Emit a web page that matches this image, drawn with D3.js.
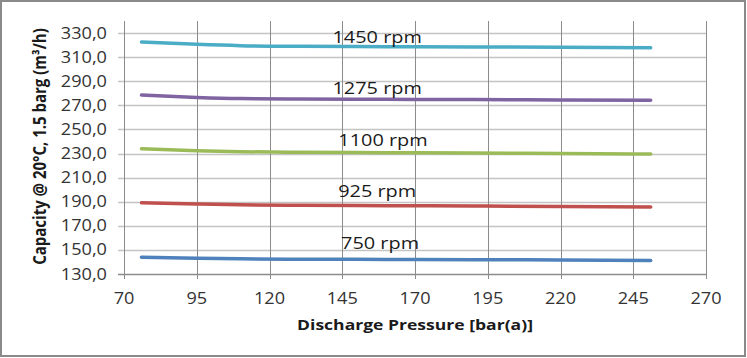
<!DOCTYPE html>
<html>
<head>
<meta charset="utf-8">
<script src="https://cdn.jsdelivr.net/npm/d3@7"></script>
<style>
  html, body { margin: 0; padding: 0; background: #fff; }
  #chart { width: 747px; height: 358px; }
</style>
</head>
<body>
<div id="chart"></div>
<script>
'use strict';

// discharge pressure points [bar(a)]
var pressures = [76, 95, 110, 130, 160, 190, 220, 251];

// capacity per speed [m3/h]
var speeds = ['750 rpm', '925 rpm', '1100 rpm', '1275 rpm', '1450 rpm'];
var cap750  = [143.9, 143.1, 142.6, 142.3, 142.1, 141.9, 141.6, 141.3];
var cap925  = [189.2, 188.1, 187.4, 187.0, 186.7, 186.4, 186.1, 185.7];
var cap1100 = [234.0, 232.4, 231.5, 231.0, 230.7, 230.4, 230.0, 229.6];
var cap1275 = [278.6, 276.6, 275.6, 275.2, 275.0, 274.8, 274.5, 274.2];
var cap1450 = [322.6, 320.6, 319.5, 319.0, 318.7, 318.4, 318.2, 317.8];

// where the speed labels sit, in chart units
var labelPressure = [158, 157, 159, 157, 157];
var labelCapacity = [150.8, 193.7, 236.5, 279.4, 321.7];

var xTicks = [70, 95, 120, 145, 170, 195, 220, 245, 270];
var yTicks = [130, 150, 170, 190, 210, 230, 250, 270, 290, 310, 330];

var colors = ['#4f81bd', '#c0504d', '#9bbb59', '#8064a2', '#4bacc6'];

var series = [cap750, cap925, cap1100, cap1275, cap1450].map(function(vals, i) {
  return { name: speeds[i], color: colors[i], points: vals.map(function(v, j) { return [pressures[j], v]; }) };
});

/********** Size Management **********/
var W = 747, H = 358;
var plotL = 124, plotR = 706, plotT = 21, plotB = 274;
var sx = 1.17; // the source text is a bit stretched sideways

var x = d3.scaleLinear().domain([70, 270]).range([plotL, plotR]);
var y = d3.scaleLinear().domain([130, 340]).range([plotB, plotT]);

var comma = d3.formatLocale({ decimal: ',', thousands: '.', grouping: [3], currency: ['', ''] }).format('.1f');

var svg = d3.select('#chart')
  .append('svg')
  .attr('width', W)
  .attr('height', H)
  .style('font-family', '"Open Sans", sans-serif');

svg.append('rect')
  .attr('x', 0).attr('y', 0).attr('width', W).attr('height', H)
  .style('fill', '#fff');

// outer frame
svg.append('rect')
  .attr('x', 1).attr('y', 1).attr('width', 744).attr('height', 355)
  .style('fill', 'none')
  .style('stroke', '#8a8a8a')
  .style('stroke-width', 2);

/********** Grid **********/
svg.append('g')
  .selectAll('line')
  .data(yTicks)
  .join('line')
  .attr('x1', plotL - 6).attr('x2', plotR)
  .attr('y1', function(d) { return Math.round(y(d)) + 0.5; })
  .attr('y2', function(d) { return Math.round(y(d)) + 0.5; })
  .style('stroke', function(d) { return d === 130 ? '#8c8c8c' : '#c4c4c4'; })
  .style('stroke-width', 1.5);

svg.append('g')
  .selectAll('line')
  .data(xTicks)
  .join('line')
  .attr('x1', function(d) { return Math.round(x(d)) + 0.5; })
  .attr('x2', function(d) { return Math.round(x(d)) + 0.5; })
  .attr('y1', plotT).attr('y2', plotB + 5)
  .style('stroke', '#8c8c8c')
  .style('stroke-width', 1);

/********** Tick labels **********/
svg.append('g')
  .selectAll('text')
  .data(yTicks)
  .join('text')
  .attr('transform', function(d) { return 'translate(107,' + (y(d) + 5.5) + ') scale(' + sx + ',1)'; })
  .attr('text-anchor', 'end')
  .attr('font-size', 15.5)
  .style('fill', '#333')
  .text(function(d) { return comma(d); });

svg.append('g')
  .selectAll('text')
  .data(xTicks)
  .join('text')
  .attr('transform', function(d) { return 'translate(' + x(d) + ',304) scale(' + sx + ',1)'; })
  .attr('text-anchor', 'middle')
  .attr('font-size', 15.5)
  .style('fill', '#333')
  .text(function(d) { return d; });

/********** Axis titles **********/
svg.append('text')
  .attr('transform', 'translate(' + ((plotL + plotR) / 2) + ',330) scale(' + sx + ',1)')
  .attr('text-anchor', 'middle')
  .attr('font-size', 15)
  .attr('font-weight', 'bold')
  .style('fill', '#1a1a1a')
  .text('Discharge Pressure  [bar(a)]');

svg.append('text')
  .attr('transform', 'translate(46,146.5) rotate(-90) scale(1.0,' + sx + ')')
  .attr('text-anchor', 'middle')
  .attr('font-size', 15)
  .attr('font-weight', 'bold')
  .style('fill', '#1a1a1a')
  .text('Capacity @ 20°C, 1.5 barg (m³/h)');

/********** Curves **********/
var line = d3.line()
  .x(function(d) { return x(d[0]); })
  .y(function(d) { return y(d[1]); })
  .curve(d3.curveMonotoneX);

svg.append('g')
  .selectAll('path')
  .data(series)
  .join('path')
  .attr('d', function(d) { return line(d.points); })
  .style('fill', 'none')
  .style('stroke', function(d) { return d.color; })
  .style('stroke-width', 3.5)
  .style('stroke-linecap', 'round');

// speed labels
svg.append('g')
  .selectAll('text')
  .data(speeds)
  .join('text')
  .attr('transform', function(d, i) {
    return 'translate(' + x(labelPressure[i]) + ',' + y(labelCapacity[i]) + ') scale(' + sx + ',1)';
  })
  .attr('text-anchor', 'middle')
  .attr('font-size', 17)
  .style('fill', '#1a1a1a')
  .text(function(d) { return d; });
</script>
</body>
</html>
